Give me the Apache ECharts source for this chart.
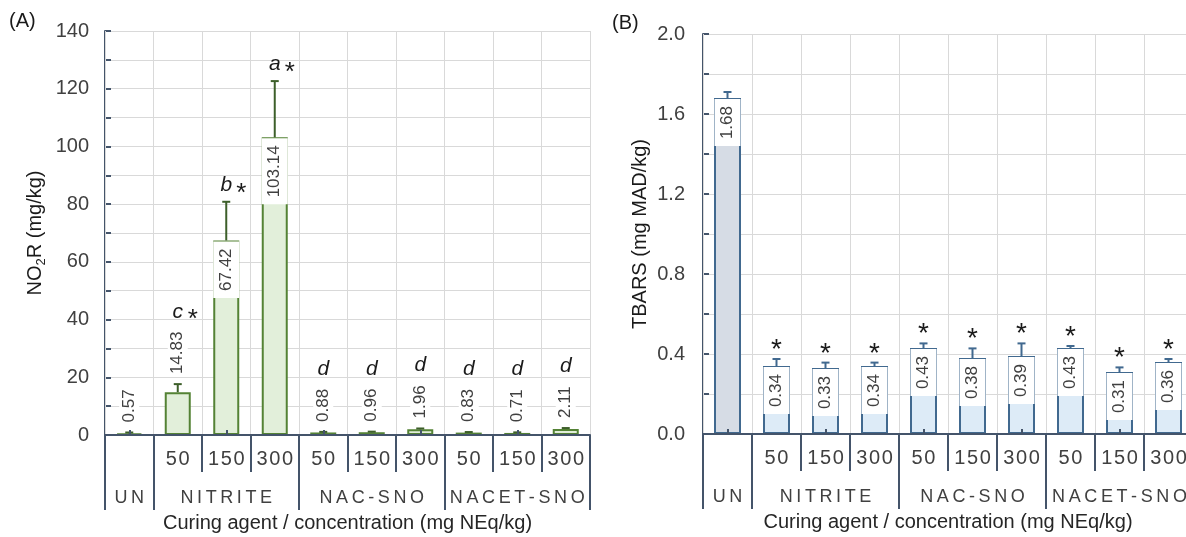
<!DOCTYPE html>
<html>
<head>
<meta charset="utf-8">
<script src="https://cdn.jsdelivr.net/npm/echarts@6/dist/echarts.min.js"></script>
<style>
  html, body { margin: 0; padding: 0; background: #ffffff; }
  #chart { width: 1186px; height: 537px; }
</style>
</head>
<body>
<div id="chart"></div>
<script>
// Treatments: untreated control, then three curing agents at three doses
const categoryIds = ['UN', 'NIT-50', 'NIT-150', 'NIT-300', 'NAC-50', 'NAC-150', 'NAC-300', 'NACET-50', 'NACET-150', 'NACET-300'];
const concLabels = ['', '50', '150', '300', '50', '150', '300', '50', '150', '300'];
const groupNames = ['UN', 'NITRITE', 'NAC-SNO', 'NACET-SNO'];
const groupLabelIndex = [0, 2, 5, 8];   // category under which each group name sits
const groupStartIndex = [0, 1, 4, 7];   // first category of each group

// (A) residual nitrite, mg/kg
const no2rMean = [0.57, 14.83, 67.42, 103.14, 0.88, 0.96, 1.96, 0.83, 0.71, 2.11];
const no2rSd = [0.3, 2.8, 13.4, 19.5, 0.2, 0.2, 0.3, 0.2, 0.2, 0.3];
const no2rLetter = ['', 'c', 'b', 'a', 'd', 'd', 'd', 'd', 'd', 'd'];
const no2rStar = [false, true, true, true, false, false, false, false, false, false];

// (B) TBARS, mg MAD/kg
const tbarsMean = [1.68, 0.34, 0.33, 0.34, 0.43, 0.38, 0.39, 0.43, 0.31, 0.36];
const tbarsSd = [0.03, 0.035, 0.027, 0.017, 0.023, 0.048, 0.063, 0.01, 0.023, 0.015];
const tbarsStar = [false, true, true, true, true, true, true, true, true, true];

const FONT = '"Liberation Sans", Arial, Helvetica, sans-serif';
const AXIS = '#44546a';
const GRID = '#d9d9d9';
const TICK_TXT = '#404040';
const VALUE_TXT = '#404040';
const MARK_TXT = '#1a1a1a';

const spaced = (s, gap) => s.split('').join(gap);

const measureCtx = document.createElement('canvas').getContext('2d');
function textWidth(t, size) {
  measureCtx.font = size + 'px ' + FONT;
  return measureCtx.measureText(t).width;
}

// Text element centred (canvas "middle" baseline) at a given point
function plainText(text, x, y, size, italic) {
  return {
    type: 'text', x: x, y: y, z2: 6,
    style: { text: text, x: 0, y: 0, align: 'center', verticalAlign: 'middle',
      fontSize: size, fontFamily: FONT, fontStyle: italic ? 'italic' : 'normal',
      fill: MARK_TXT, lineHeight: size }
  };
}

// Error bars, rotated value labels and significance marks for one panel
function annotate(opts) {
  const VAL_SIZE = 17, PAD = 7;
  const MID = 0.3465;        // canvas middle baseline above the alphabetic one (em)
  const STAR_BOTTOM = 0.43;  // lower edge of the asterisk above the baseline (em)
  return function (params, api) {
    const i = params.dataIndex;
    const m = api.value(1), s = api.value(2);
    const base = api.coord([i, 0]);
    const top = api.coord([i, m]);
    const err = api.coord([i, m + s]);
    const x = top[0];
    const children = [
      { type: 'line', shape: { x1: x, y1: top[1], x2: x, y2: err[1] },
        style: { stroke: opts.errColor, lineWidth: opts.errWidth } },
      { type: 'line', shape: { x1: x - 4, y1: err[1], x2: x + 4, y2: err[1] },
        style: { stroke: opts.errColor, lineWidth: opts.errWidth } }
    ];
    const txt = m.toFixed(2);
    const tw = textWidth(txt, VAL_SIZE);
    const boxLen = tw + 2 * PAD;
    let baseline;   // baseline of the significance letter above the bar
    if (base[1] - top[1] > boxLen + 6) {
      children.push({
        type: 'text', x: x, y: top[1] + 1, rotation: Math.PI / 2, z2: 5,
        style: { text: txt, x: 0, y: 0, align: 'right', verticalAlign: 'middle',
          fontSize: VAL_SIZE, fontFamily: FONT, fill: VALUE_TXT, lineHeight: 18,
          backgroundColor: '#ffffff', padding: [4, PAD, 4, PAD] }
      });
      baseline = err[1] - 9.5;
    } else {
      const a = err[1] - 7;
      children.push({
        type: 'text', x: x, y: a, rotation: Math.PI / 2, z2: 5,
        style: { text: txt, x: 0, y: 0, align: 'left', verticalAlign: 'middle',
          fontSize: VAL_SIZE, fontFamily: FONT, fill: VALUE_TXT, lineHeight: 18,
          backgroundColor: '#ffffff', padding: [1, 3, 1, 3] }
      });
      baseline = a - 3 - tw - 12.5;
    }
    const letter = opts.letters ? opts.letters[i] : '';
    const star = opts.stars[i];
    const LS = opts.letterSize, SS = opts.starSize;
    if (letter) {
      children.push(plainText(letter, x, baseline - MID * LS, LS, true));
      if (star) {
        // asterisk beside the letter, its lower edge just above the letter baseline
        const starBaseline = baseline - 1 + STAR_BOTTOM * SS;
        children.push(plainText('*', x + 15, starBaseline - MID * SS, SS, false));
      }
    } else if (star) {
      const starBaseline = err[1] - opts.starGap + STAR_BOTTOM * SS;
      children.push(plainText('*', x, starBaseline - MID * SS, SS, false));
    }
    return { type: 'group', children: children };
  };
}

function xAxesFor(gridIndex) {
  const line = { color: AXIS, width: 2 };
  return [
    { // dose labels, short separators, vertical grid lines
      gridIndex, type: 'category', data: categoryIds, position: 'bottom', z: 3,
      axisLine: { show: true, lineStyle: line },
      axisTick: { show: true, length: 37, lineStyle: line },
      axisLabel: { interval: 0, margin: 14, fontSize: 20, fontFamily: FONT, color: TICK_TXT,
        formatter: (v, idx) => spaced(concLabels[idx], '\u200A') },
      splitLine: { show: true, lineStyle: { color: GRID, width: 1 } }
    },
    { // group labels, long separators and axis title
      gridIndex, type: 'category', data: categoryIds, position: 'bottom', z: 3,
      axisLine: { show: false },
      axisTick: { show: true, length: 75, lineStyle: line,
        interval: idx => groupStartIndex.indexOf(idx) >= 0 },
      axisLabel: { margin: 54, fontSize: 18, fontFamily: FONT, color: TICK_TXT,
        interval: idx => groupLabelIndex.indexOf(idx) >= 0,
        formatter: (v, idx) => spaced(groupNames[groupLabelIndex.indexOf(idx)] || '', '\u2009') },
      splitLine: { show: false },
      name: 'Curing agent / concentration (mg NEq/kg)', nameLocation: 'middle', nameGap: 78,
      nameTextStyle: { fontSize: 20, fontFamily: FONT, color: '#262626' }
    },
    { // small inner ticks at bar centres
      gridIndex, type: 'category', data: categoryIds, position: 'bottom', z: 6,
      axisLine: { show: false },
      axisTick: { show: true, inside: true, alignWithLabel: true, length: 5, lineStyle: line },
      axisLabel: { show: false },
      splitLine: { show: false }
    }
  ];
}

function yAxisFor(gridIndex, max, interval, digits, name, nameGap, margin) {
  const line = { color: AXIS, width: 2 };
  return {
    gridIndex, type: 'value', min: 0, max: max, interval: interval,
    axisLine: { show: true, lineStyle: line },
    axisTick: { show: true, inside: true, length: 6, lineStyle: line },
    minorTick: { show: true, splitNumber: 2, length: 6, lineStyle: line },
    splitLine: { show: true, lineStyle: { color: GRID, width: 1 } },
    minorSplitLine: { show: true, lineStyle: { color: GRID, width: 1 } },
    axisLabel: { margin: margin, fontSize: 20, fontFamily: FONT, color: TICK_TXT,
      formatter: v => v.toFixed(digits) },
    name: name, nameLocation: 'middle', nameGap: nameGap,
    nameTextStyle: { fontSize: 20, fontFamily: FONT, color: '#1a1a1a',
      rich: {
        n: { fontSize: 20, fontFamily: FONT, color: '#1a1a1a', lineHeight: 26 },
        sub: { fontSize: 13, fontFamily: FONT, color: '#1a1a1a', lineHeight: 13, verticalAlign: 'bottom' }
      } }
  };
}

const chart = echarts.init(document.getElementById('chart'), null, { renderer: 'canvas' });

chart.setOption({
  backgroundColor: '#ffffff',
  animation: false,
  title: [
    { text: '(A)', left: 9, top: 11, padding: 0, textStyle: { fontSize: 20, fontWeight: 'normal', fontFamily: FONT, color: '#1a1a1a' } },
    { text: '(B)', left: 612, top: 13, padding: 0, textStyle: { fontSize: 20, fontWeight: 'normal', fontFamily: FONT, color: '#1a1a1a' } }
  ],
  grid: [
    { left: 105, right: 596, top: 31, bottom: 102, outerBoundsMode: 'none', containLabel: false },
    { left: 703, right: -7, top: 34, bottom: 103, outerBoundsMode: 'none', containLabel: false }
  ],
  xAxis: xAxesFor(0).concat(xAxesFor(1)),
  yAxis: [
    yAxisFor(0, 140, 20, 0, '{n|NO}{sub|2}{n|R (mg/kg)}', 57, 16),
    yAxisFor(1, 2.0, 0.4, 1, '{n|TBARS (mg MAD/kg)}', 50, 18)
  ],
  series: [
    {
      type: 'bar', xAxisIndex: 0, yAxisIndex: 0, barWidth: 26, z: 2,
      data: no2rMean,
      itemStyle: { color: '#e2efda', borderColor: '#548235', borderWidth: 2 }
    },
    {
      type: 'custom', xAxisIndex: 0, yAxisIndex: 0, z: 4,
      data: no2rMean.map((m, i) => [i, m, no2rSd[i]]),
      encode: { x: 0, y: 1 },
      renderItem: annotate({ errColor: '#3d5f2a', errWidth: 2, letters: no2rLetter, stars: no2rStar,
        letterSize: 21, starSize: 26, starGap: 10 })
    },
    {
      type: 'bar', xAxisIndex: 3, yAxisIndex: 1, barWidth: 27, z: 2,
      data: tbarsMean.map((v, i) => i === 0
        ? { value: v, itemStyle: { color: '#d6dce5' } }
        : v),
      itemStyle: { color: '#ddebf7', borderColor: '#41698f', borderWidth: 2 }
    },
    {
      type: 'custom', xAxisIndex: 3, yAxisIndex: 1, z: 4,
      data: tbarsMean.map((m, i) => [i, m, tbarsSd[i]]),
      encode: { x: 0, y: 1 },
      renderItem: annotate({ errColor: '#41698f', errWidth: 2, letters: null, stars: tbarsStar,
        letterSize: 21, starSize: 28, starGap: 11 })
    }
  ]
});
</script>
</body>
</html>
